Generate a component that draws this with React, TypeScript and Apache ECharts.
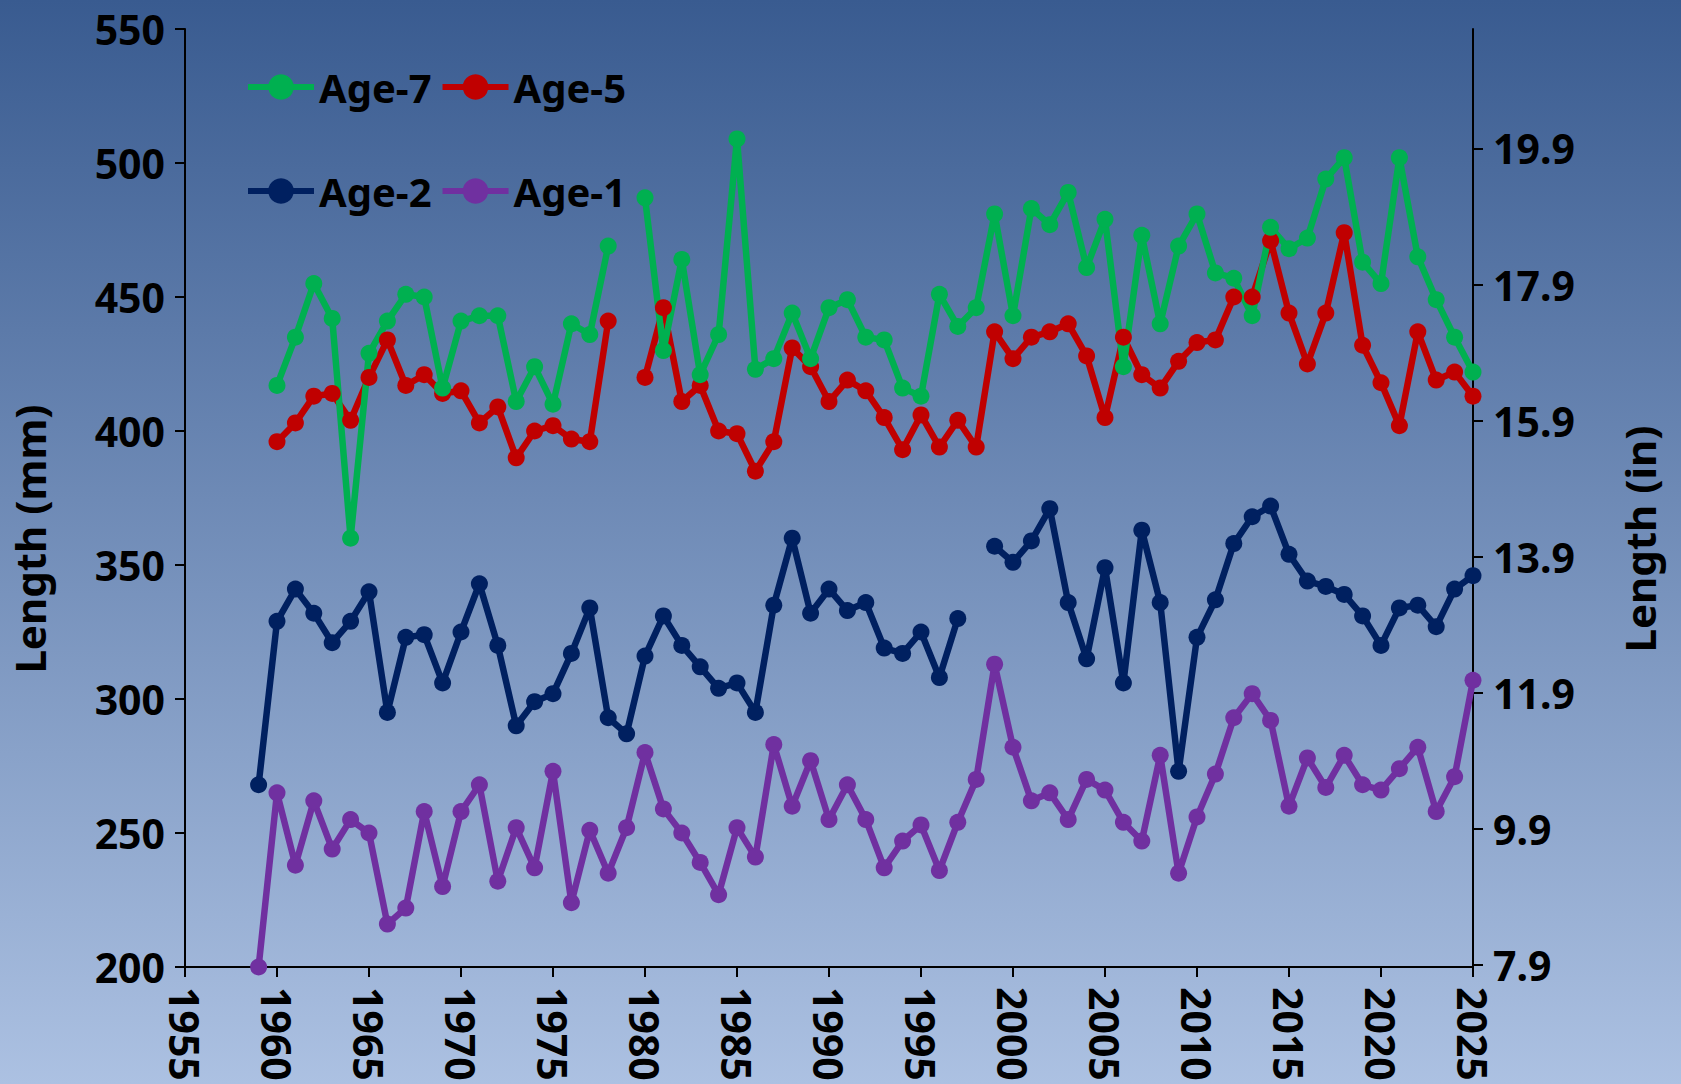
import React, { useEffect, useRef } from "react";
import * as echarts from "echarts";

const years: number[] = [];
for (let y = 1959; y <= 2025; y++) years.push(y);

// Age-7 (green)
const age7: (number | null)[] = [
  null, 417, 435, 455, 442, 360, 429, 441, 451, 450, 416, 441, 443, 443, 411, 424, 410, 440, 436, 469,
  null, 487, 430, 464, 421, 436, 509, 423, 427, 444, 427, 446, 449, 435, 434, 416, 413, 451, 439, 446,
  481, 443, 483, 477, 489, 461, 479, 424, 473, 440, 469, 481, 459, 457, 443, 476, 468, 472, 494, 502,
  463, 455, 502, 465, 449, 435, 422,
];
// Age-5 (red)
const age5: (number | null)[] = [
  null, 396, 403, 413, 414, 404, 420, 434, 417, 421, 414, 415, 403, 409, 390, 400, 402, 397, 396, 441,
  null, 420, 446, 411, 417, 400, 399, 385, 396, 431, 424, 411, 419, 415, 405, 393, 406, 394, 404, 394,
  437, 427, 435, 437, 440, 428, 405, 435, 421, 416, 426, 433, 434, 450, 450, 471, 444, 425, 444, 474,
  432, 418, 402, 437, 419, 422, 413,
];
// Age-2 (navy)
const age2: (number | null)[] = [
  268, 329, 341, 332, 321, 329, 340, 295, 323, 324, 306, 325, 343, 320, 290, 299, 302, 317, 334, 293,
  287, 316, 331, 320, 312, 304, 306, 295, 335, 360, 332, 341, 333, 336, 319, 317, 325, 308, 330, null,
  357, 351, 359, 371, 336, 315, 349, 306, 363, 336, 273, 323, 337, 358, 368, 372, 354, 344, 342, 339,
  331, 320, 334, 335, 327, 341, 346,
];
// Age-1 (purple)
const age1: (number | null)[] = [
  200, 265, 238, 262, 244, 255, 250, 216, 222, 258, 230, 258, 268, 232, 252, 237, 273, 224, 251, 235,
  252, 280, 259, 250, 239, 227, 252, 241, 283, 260, 277, 255, 268, 255, 237, 247, 253, 236, 254, 270,
  313, 282, 262, 265, 255, 270, 266, 254, 247, 279, 235, 256, 272, 293, 302, 292, 260, 278, 267, 279,
  268, 266, 274, 282, 258, 271, 307,
];

const inchTicks = [7.9, 9.9, 11.9, 13.9, 15.9, 17.9, 19.9];
const MM_PER_IN = 25.4;

const seriesDefs = [
  { name: "Age-1", data: age1, color: "#7030a0" },
  { name: "Age-2", data: age2, color: "#002060" },
  { name: "Age-5", data: age5, color: "#c00000" },
  { name: "Age-7", data: age7, color: "#00b050" },
];

const FONT = "Noto Sans";

export default function App() {
  const ref = useRef<HTMLDivElement>(null);
  useEffect(() => {
    if (!ref.current) return;
    const chart = echarts.init(ref.current, null, { renderer: "svg" });
    const labelStyle = { color: "#000", fontFamily: FONT, fontWeight: "bold" as const, fontSize: 41, lineHeight: 38 };
    const legendText = { color: "#000", fontFamily: FONT, fontWeight: "bold" as const, fontSize: 40 };
    const axisLine = { show: true, onZero: false, lineStyle: { color: "#000", width: 2 } };
    const axisTick = { show: true, inside: false, length: 10, lineStyle: { color: "#000", width: 2 } };
    const legendCommon = {
      left: 240, orient: "horizontal", itemWidth: 66, itemHeight: 32, itemGap: 8,
      textStyle: legendText, selectedMode: false,
      lineStyle: { width: 6 },
    };
    chart.setOption({
      animation: false,
      backgroundColor: {
        type: "linear", x: 0, y: 0, x2: 0, y2: 1,
        colorStops: [
          { offset: 0, color: "#395b90" },
          { offset: 1, color: "#acc1e2" },
        ],
      },
      grid: { left: 185, right: 208, top: 29, bottom: 117, containLabel: false, outerBoundsMode: "none" },
      legend: [
        { ...legendCommon, data: ["Age-7", "Age-5"], top: 62 },
        { ...legendCommon, data: ["Age-2", "Age-1"], top: 166 },
      ],
      xAxis: {
        type: "value", min: 1955, max: 2025, interval: 5,
        axisLine, axisTick, splitLine: { show: false },
        axisLabel: { ...labelStyle, rotate: -90, margin: 20, formatter: (v: number) => String(v) },
      },
      yAxis: [
        {
          type: "value", position: "left", min: 200, max: 550, interval: 50,
          axisLine, axisTick, splitLine: { show: false },
          axisLabel: { ...labelStyle, margin: 20 },
        },
        {
          type: "value", position: "right", min: 200, max: 550,
          axisLine, splitLine: { show: false },
          axisTick: { ...axisTick, customValues: inchTicks.map((v) => v * MM_PER_IN) },
          axisLabel: {
            ...labelStyle, margin: 20,
            customValues: inchTicks.map((v) => v * MM_PER_IN),
            formatter: (v: number) => (v / MM_PER_IN).toFixed(1),
          },
        },
      ],
      series: seriesDefs.map((s) => ({
        name: s.name,
        type: "line",
        yAxisIndex: 0,
        clip: false,
        symbol: "circle",
        symbolSize: 17,
        showSymbol: true,
        connectNulls: false,
        lineStyle: { color: s.color, width: 6.5 },
        itemStyle: { color: s.color },
        emphasis: { disabled: true },
        data: years.map((y, i) => [y, s.data[i] === null ? "-" : s.data[i]]),
      })),
      graphic: [
        {
          type: "text", x: 29, y: 539, rotation: Math.PI / 2,
          style: { text: "Length (mm)", fill: "#000", fontFamily: FONT, fontWeight: "bold", fontSize: 42, align: "center", verticalAlign: "middle" },
        },
        {
          type: "text", x: 1639, y: 539, rotation: Math.PI / 2,
          style: { text: "Length (in)", fill: "#000", fontFamily: FONT, fontWeight: "bold", fontSize: 42, align: "center", verticalAlign: "middle" },
        },
      ],
    });
    return () => chart.dispose();
  }, []);
  return <div ref={ref} style={{ position: "fixed", left: 0, top: 0, width: 1681, height: 1084 }} />;
}
